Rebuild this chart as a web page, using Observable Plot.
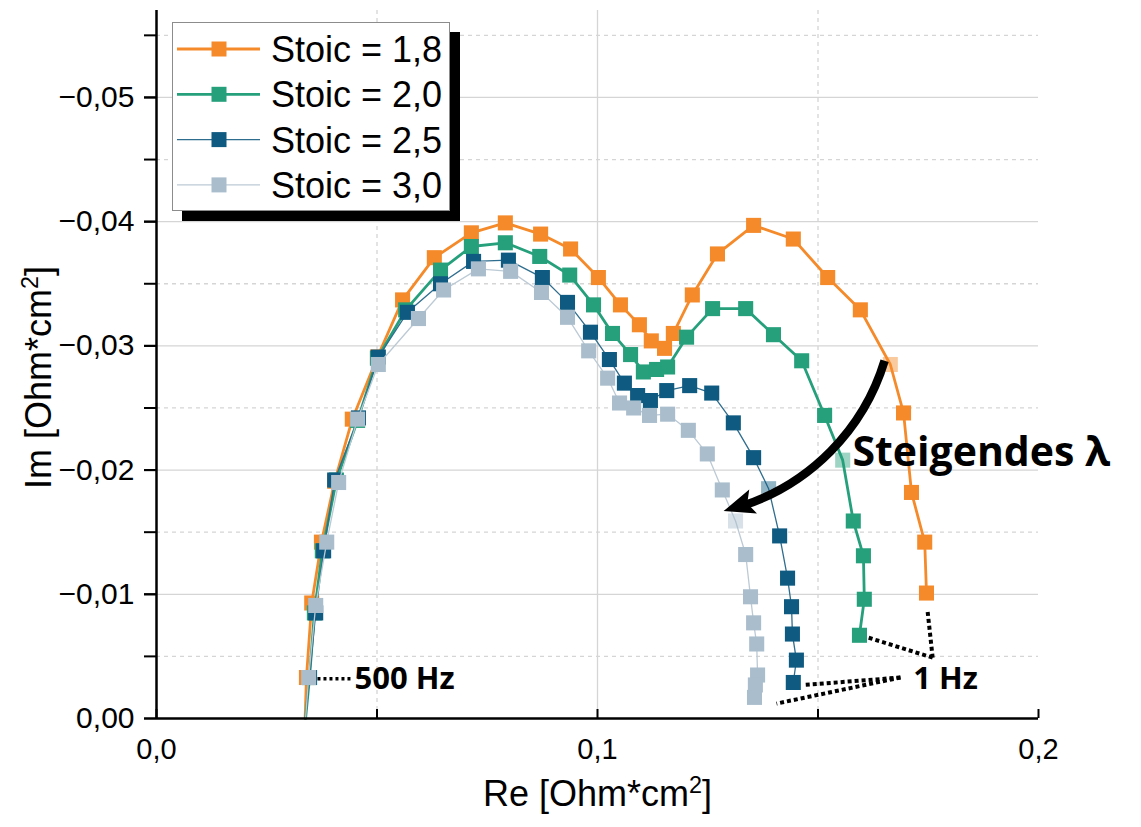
<!DOCTYPE html>
<html>
<head>
<meta charset="utf-8">
<script src="https://cdn.jsdelivr.net/npm/d3@7"></script>
<script src="https://cdn.jsdelivr.net/npm/@observablehq/plot@0.6"></script>
<style>
  html, body { margin: 0; padding: 0; background: #fff; }
  #wrap { position: relative; width: 1141px; height: 827px; overflow: hidden; background: #fff; }
  #legend { position: absolute; left: 172px; top: 22px; width: 276px; height: 187px;
            background: #fff; border: 1.5px solid #8c8c8c; box-shadow: 10px 10px 0 #000; }
  #legend svg { display: block; }
</style>
</head>
<body>
<div id="wrap"></div>
<script>
// ---------- data ----------
const seriesNames = ["Stoic = 1,8", "Stoic = 2,0", "Stoic = 2,5", "Stoic = 3,0"];

// Stoic = 1,8 (500 Hz -> 1 Hz)
const re18 = [0.0340, 0.0352, 0.0374, 0.0404, 0.0444, 0.0501, 0.0558, 0.0630, 0.0714, 0.0791,
              0.0871, 0.0939, 0.1002, 0.1052, 0.1095, 0.1122, 0.1152, 0.1172, 0.1215, 0.1272,
              0.1354, 0.1444, 0.1522, 0.1596, 0.1664, 0.1694, 0.1712, 0.1742, 0.1746];
const im18 = [-0.0033, -0.0093, -0.0142, -0.0191, -0.0241, -0.0291, -0.0337, -0.0371, -0.0391, -0.0399,
              -0.0390, -0.0378, -0.0355, -0.0333, -0.0317, -0.0304, -0.0298, -0.0310, -0.0341, -0.0374,
              -0.0397, -0.0386, -0.0355, -0.0329, -0.0285, -0.0246, -0.0182, -0.0142, -0.0101];

// Stoic = 2,0
const re20 = [0.0347, 0.0358, 0.0376, 0.0408, 0.0456, 0.0501, 0.0565, 0.0644, 0.0714, 0.0791,
              0.0869, 0.0937, 0.0991, 0.1034, 0.1075, 0.1104, 0.1134, 0.1159, 0.1202, 0.1261,
              0.1336, 0.1399, 0.1463, 0.1515, 0.1556, 0.1580, 0.1603, 0.1605, 0.1594];
const im20 = [-0.0033, -0.0085, -0.0135, -0.0192, -0.0240, -0.0290, -0.0329, -0.0361, -0.0380, -0.0383,
              -0.0372, -0.0357, -0.0333, -0.0310, -0.0293, -0.0279, -0.0281, -0.0283, -0.0307, -0.0330,
              -0.0330, -0.0309, -0.0288, -0.0244, -0.0208, -0.0159, -0.0131, -0.0096, -0.0067];

// Stoic = 2,5
const re25 = [0.0347, 0.0361, 0.0379, 0.0404, 0.0458, 0.0503, 0.0569, 0.0644, 0.0719, 0.0798,
              0.0875, 0.0932, 0.0984, 0.1027, 0.1061, 0.1091, 0.1120, 0.1157, 0.1209, 0.1259,
              0.1308, 0.1354, 0.1388, 0.1413, 0.1431, 0.1440, 0.1442, 0.1451, 0.1444];
const im25 = [-0.0033, -0.0085, -0.0135, -0.0192, -0.0242, -0.0291, -0.0327, -0.0350, -0.0368, -0.0369,
              -0.0355, -0.0335, -0.0311, -0.0289, -0.0270, -0.0260, -0.0256, -0.0264, -0.0268, -0.0262,
              -0.0238, -0.0210, -0.0185, -0.0147, -0.0113, -0.0090, -0.0068, -0.0047, -0.0029];

// Stoic = 3,0
const re30 = [0.0345, 0.0361, 0.0386, 0.0413, 0.0456, 0.0503, 0.0594, 0.0651, 0.0730, 0.0803,
              0.0873, 0.0932, 0.0980, 0.1023, 0.1050, 0.1082, 0.1118, 0.1159, 0.1206, 0.1249,
              0.1283, 0.1313, 0.1336, 0.1347, 0.1354, 0.1361, 0.1363, 0.1358, 0.1356];
const im30 = [-0.0033, -0.0091, -0.0142, -0.0190, -0.0241, -0.0285, -0.0322, -0.0345, -0.0362, -0.0360,
              -0.0343, -0.0323, -0.0296, -0.0274, -0.0254, -0.0250, -0.0244, -0.0245, -0.0232, -0.0213,
              -0.0184, -0.0159, -0.0132, -0.0098, -0.0077, -0.0060, -0.0035, -0.0027, -0.0017];

// high-frequency intercept of each curve with the real axis (line only, no marker)
const interceptRe = [0.0337, 0.0338, 0.0338, 0.0338];
// markers that appear faded under the arrow highlight
const fadedIndex = [24, 24, 22, 21];

// axis ticks
const xTicks = [0, 0.05, 0.1, 0.15, 0.2];
const xLabelTicks = [0, 0.1, 0.2];
const yTicks = [0, -0.005, -0.01, -0.015, -0.02, -0.025, -0.03, -0.035, -0.04, -0.045, -0.05, -0.055];
const yLabelTicks = [0, -0.01, -0.02, -0.03, -0.04, -0.05];
const xGridSolid = [0.1];
const xGridDashed = [0.05, 0.15];
const yGridSolid = [-0.01, -0.02, -0.03, -0.04, -0.05];
const yGridDashed = [-0.005, -0.015, -0.025, -0.035, -0.045, -0.055];

// ---------- styles ----------
const markerColors = ["#f58a2a", "#25a07b", "#0e5a80", "#a9bdcc"];
const lineColors   = ["#f58a2a", "#25a07b", "#2f6d8e", "#bccad5"];
const lineWidths   = [2.8, 2.8, 1.3, 1.3];

const reArr = [re18, re20, re25, re30];
const imArr = [im18, im20, im25, im30];

const points = [];
const linePts = [];
seriesNames.forEach((name, k) => {
  linePts.push({series: name, x: interceptRe[k], y: 0});
  reArr[k].forEach((x, i) => {
    const p = {series: name, x, y: imArr[k][i], faded: i === fadedIndex[k]};
    points.push(p);
    linePts.push(p);
  });
});

const fmtY = d => d === 0 ? "0,00" : "\u2212" + Math.abs(d).toFixed(2).replace(".", ",");
const fmtX = d => d.toFixed(1).replace(".", ",");

const gridColor = "#d5d5d5";
const seriesMarks = seriesNames.flatMap((name, k) => [
  Plot.line(linePts.filter(d => d.series === name), {x: "x", y: "y", stroke: lineColors[k], strokeWidth: lineWidths[k]}),
  Plot.dot(points.filter(d => d.series === name), {x: "x", y: "y", symbol: "square", r: 8.5,
    fill: markerColors[k], fillOpacity: d => d.faded ? 0.45 : 1, stroke: null})
]);

const annoFont = "'Open Sans', 'Noto Sans', sans-serif";
const oneHzLeaders = [
  {x1: 0.1760, y1: -0.0049, x2: 0.1748, y2: -0.0088},
  {x1: 0.1760, y1: -0.0049, x2: 0.1615, y2: -0.0065},
  {x1: 0.1687, y1: -0.0033, x2: 0.1469, y2: -0.0027},
  {x1: 0.1687, y1: -0.0033, x2: 0.1406, y2: -0.0012}
];
const arrowSpan = [{x1: 0.1651, y1: -0.0288, x2: 0.1286, y2: -0.0167}];

// filled arrow head (vector shape pointing "up" from 0 to -l)
const headShape = {
  draw(context, l) {
    const w = 12.5;
    context.moveTo(0, -l);
    context.lineTo(-w, 0);
    context.lineTo(0, -l * 0.2);
    context.lineTo(w, 0);
    context.closePath();
  }
};

const chart = Plot.plot({
  width: 1141,
  height: 827,
  marginLeft: 156,
  marginRight: 103,
  marginTop: 10,
  marginBottom: 109,
  x: {domain: [0, 0.2], label: null},
  y: {domain: [0, -0.057], label: null},
  style: {background: "#fff", fontFamily: "'Liberation Sans', Arial, sans-serif", overflow: "visible"},
  marks: [
    Plot.ruleY(yGridSolid, {stroke: gridColor, strokeWidth: 1.3}),
    Plot.ruleY(yGridDashed, {stroke: gridColor, strokeWidth: 1.3, strokeDasharray: "4,4"}),
    Plot.ruleX(xGridSolid, {stroke: gridColor, strokeWidth: 1.3}),
    Plot.ruleX(xGridDashed, {stroke: gridColor, strokeWidth: 1.3, strokeDasharray: "4,4"}),
    ...seriesMarks,
    // annotations
    Plot.link([{x1: 0.0365, y1: -0.0032, x2: 0.0442, y2: -0.0032}], {x1: "x1", y1: "y1", x2: "x2", y2: "y2",
      stroke: "black", strokeWidth: 3.5, strokeDasharray: "3,3"}),
    Plot.text(["500 Hz"], {x: 0.0449, y: -0.0032, text: d => d, textAnchor: "start",
      fontSize: 31, fontWeight: 700, fontFamily: annoFont, fill: "black"}),
    Plot.link(oneHzLeaders, {x1: "x1", y1: "y1", x2: "x2", y2: "y2",
      stroke: "black", strokeWidth: 4, strokeDasharray: "4,3"}),
    Plot.text(["1 Hz"], {x: 0.1716, y: -0.0032, text: d => d, textAnchor: "start",
      fontSize: 31, fontWeight: 700, fontFamily: annoFont, fill: "black"}),
    Plot.arrow(arrowSpan, {x1: "x1", y1: "y1", x2: "x2", y2: "y2",
      bend: 30, stroke: "black", strokeWidth: 8.5, headLength: 0, insetEnd: 18, strokeLinecap: "butt"}),
    Plot.vector(arrowSpan, {x: "x2", y: "y2", anchor: "end", length: 31, rotate: 252,
      shape: headShape, fill: "black", stroke: "none"}),
    Plot.text(["Steigendes \u03bb"], {x: 0.1578, y: -0.0214, text: d => d, textAnchor: "start",
      fontSize: 41, fontWeight: 700, fontFamily: annoFont, fill: "black"}),
    // axes
    Plot.axisY(yTicks, {tickSize: 12, tickFormat: () => "", strokeWidth: 2, label: null}),
    Plot.axisY(yLabelTicks, {tickSize: 12, tickPadding: 10, tickFormat: fmtY, fontSize: 30, strokeWidth: 2, label: null}),
    Plot.axisX(xTicks, {tickSize: -9, tickFormat: () => "", strokeWidth: 2, label: null}),
    Plot.axisX(xLabelTicks, {tickSize: 0, tickPadding: 20, tickFormat: fmtX, fontSize: 29, label: null}),
    Plot.ruleX([0], {stroke: "black", strokeWidth: 2.5}),
    Plot.ruleY([0], {stroke: "black", strokeWidth: 2.5}),
    // axis titles
    Plot.text(["Im [Ohm*cm\u00b2]"], {text: d => d, frameAnchor: "left", textAnchor: "middle",
      dx: -117, dy: 13, rotate: -90, fontSize: 36, fill: "black"}),
    Plot.text(["Re [Ohm*cm\u00b2]"], {text: d => d, frameAnchor: "bottom", textAnchor: "middle",
      dy: 87, fontSize: 36, fill: "black"})
  ]
});

// real superscript for the unit exponent
d3.select(chart).selectAll("text").each(function () {
  const t = this.textContent;
  if (t.includes("\u00b2")) {
    const [a, b] = t.split("\u00b2");
    const sel = d3.select(this);
    sel.text(null);
    sel.append("tspan").text(a);
    sel.append("tspan").attr("baseline-shift", "super").attr("font-size", "65%").text("2");
    sel.append("tspan").text(b);
  }
});

const wrap = document.getElementById("wrap");
wrap.appendChild(chart);

// legend (box with drop shadow, built from the series arrays)
const legend = document.createElement("div");
legend.id = "legend";
wrap.appendChild(legend);
const lsvg = d3.select(legend).append("svg").attr("width", 276).attr("height", 187);
const rowY = i => 26 + i * 45.3;
seriesNames.forEach((name, k) => {
  const g = lsvg.append("g").attr("transform", `translate(0,${rowY(k)})`);
  g.append("line").attr("x1", 4).attr("x2", 87).attr("y1", 0).attr("y2", 0)
    .attr("stroke", lineColors[k]).attr("stroke-width", lineWidths[k]);
  g.append("rect").attr("x", 46 - 7.5).attr("y", -7.5).attr("width", 15).attr("height", 15).attr("fill", markerColors[k]);
  g.append("text").attr("x", 98).attr("y", 13).attr("font-family", "'Liberation Sans', Arial, sans-serif")
    .attr("font-size", 36).attr("fill", "#000").text(name);
});
</script>
</body>
</html>
